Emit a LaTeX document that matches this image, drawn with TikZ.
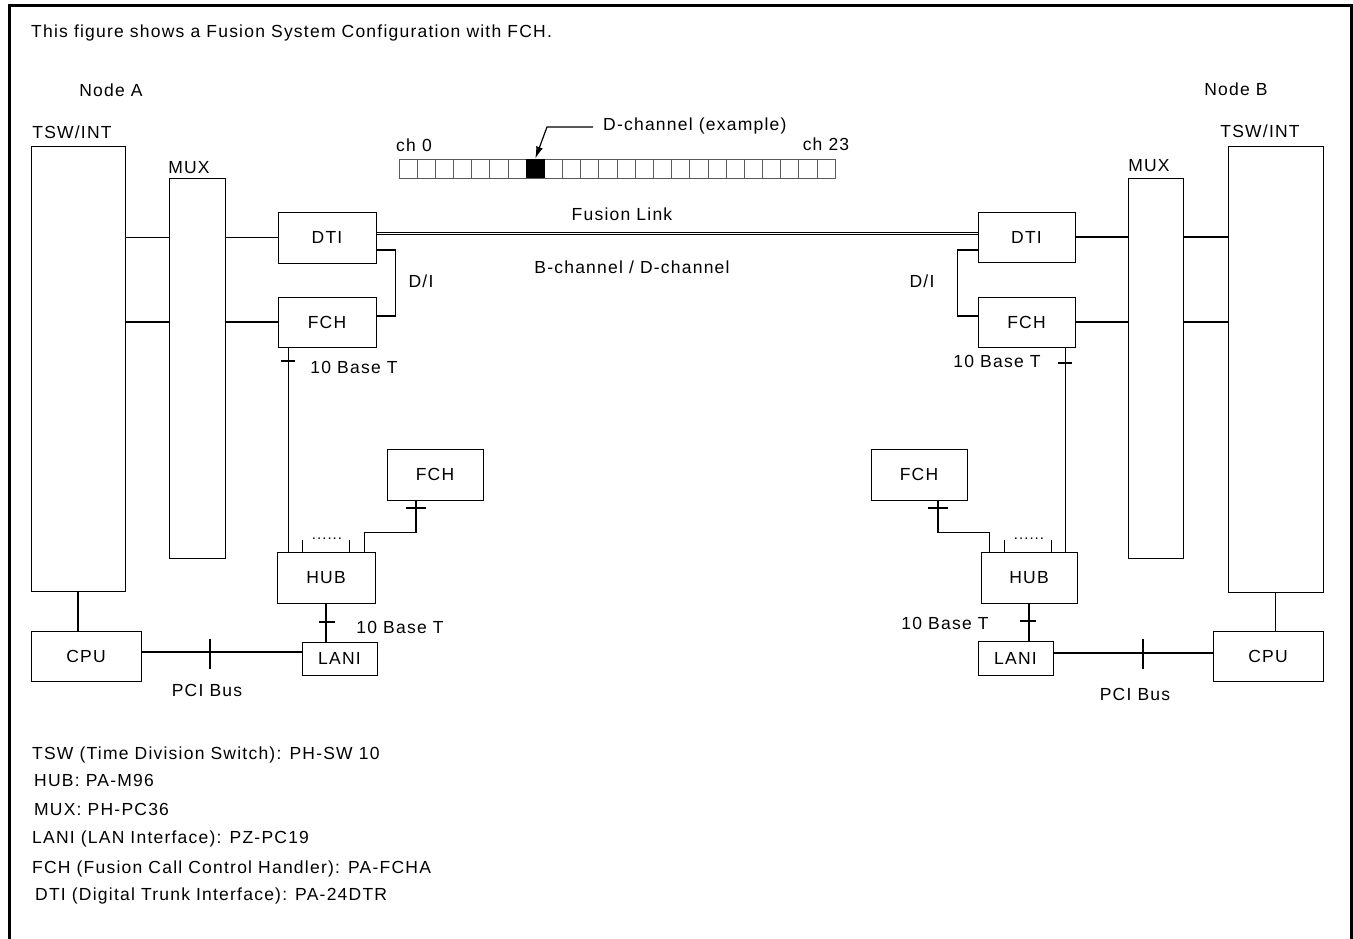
\documentclass[tikz,border=0pt]{standalone}
\usepackage{fontspec}
\setmainfont{Liberation Sans}[LetterSpace=7]
\usetikzlibrary{arrows.meta}
\tikzstyle{card}=[draw=black, line width=1pt, shape=rectangle, inner sep=0pt]
\tikzstyle{txt}=[inner sep=0pt, text height=12pt, text depth=0pt]
\tikzstyle{wire}=[-, draw=black, line width=1.8pt]
\tikzstyle{tick}=[-, draw=black, line width=1.4pt]
\tikzstyle{frame}=[-, draw=black, line width=3pt]
\tikzstyle{link}=[-, draw=black, double=white, double distance=1.6pt, line width=1pt]
\tikzstyle{cell}=[draw={rgb,255: red,90; green,90; blue,90}, line width=0.8pt,
        inner sep=0pt, minimum width=18.17pt, minimum height=19pt]

\begin{document}
\begin{tikzpicture}[x=1pt, y=-1pt, font=\fontsize{17.5}{20}\selectfont]
            \useasboundingbox (0,0) rectangle (1353,938);
            \draw [style=frame] (9,945) -- (9,5) -- (1351,5) -- (1351,945);

            \node [style=txt, anchor=west] (40) at (31,31) {This figure shows a Fusion System Configuration with FCH.};
            \node [style=txt] (41) at (111,90) {Node A};
            \node [style=txt] (42) at (1236,89) {Node B};
            \node [style=txt] (43) at (72,132) {TSW/INT};
            \node [style=txt] (44) at (1260,131) {TSW/INT};
            \node [style=txt] (45) at (189,167) {MUX};
            \node [style=txt] (46) at (1149,165) {MUX};

            % node A
            \node [style=card, minimum width=94pt, minimum height=445pt] (1) at (78,368.5) {};
            \node [style=card, minimum width=56pt, minimum height=380pt] (2) at (197,368) {};
            \node [style=card, minimum width=98pt, minimum height=51pt] (3) at (327,237.5) {DTI};
            \node [style=card, minimum width=98pt, minimum height=50pt] (4) at (327,322) {FCH};
            \node [style=card, minimum width=96pt, minimum height=51pt] (5) at (435,474.5) {FCH};
            \node [style=card, minimum width=98pt, minimum height=51pt] (6) at (326,577.5) {HUB};
            \node [style=card, minimum width=75pt, minimum height=33pt] (7) at (339.5,658.5) {LANI};
            \node [style=card, minimum width=110pt, minimum height=50pt] (8) at (86,656) {CPU};

            % node B
            \node [style=card, minimum width=95pt, minimum height=446pt] (9) at (1275.5,369) {};
            \node [style=card, minimum width=55pt, minimum height=380pt] (10) at (1155.5,368) {};
            \node [style=card, minimum width=97pt, minimum height=50pt] (11) at (1026.5,237) {DTI};
            \node [style=card, minimum width=97pt, minimum height=50pt] (12) at (1026.5,322) {FCH};
            \node [style=card, minimum width=96pt, minimum height=51pt] (13) at (919,474.5) {FCH};
            \node [style=card, minimum width=96pt, minimum height=51pt] (14) at (1029,577.5) {HUB};
            \node [style=card, minimum width=75pt, minimum height=34pt] (15) at (1015.5,658) {LANI};
            \node [style=card, minimum width=110pt, minimum height=50pt] (16) at (1268,656) {CPU};

            \node [style=txt] (20) at (421,281.5) {D/I};
            \node [style=txt] (21) at (922,281.5) {D/I};
            \node [style=txt] (22) at (354,367) {10 Base T};
            \node [style=txt] (23) at (997,361) {10 Base T};
            \node [style=txt] (24) at (400,627) {10 Base T};
            \node [style=txt] (25) at (945,623) {10 Base T};
            \node [style=txt] (26) at (207,690) {PCI Bus};
            \node [style=txt] (27) at (1135,694) {PCI Bus};
            \node [style=txt] (28) at (622,214) {Fusion Link};
            \node [style=txt] (29) at (632,267) {B-channel / D-channel};

            \draw [style=wire] (1.east |- 3.west) to (2.west |- 3.west);
            \draw [style=wire] (1.east |- 4.west) to (2.west |- 4.west);
            \draw [style=wire] (2.east |- 3.west) to (3.west);
            \draw [style=wire] (2.east |- 4.west) to (4.west);
            \draw [style=wire] ([yshift=-12.5pt]3.east) -- ++(19,0) |- ([yshift=6pt]4.east);
            \draw [style=wire] ([xshift=11pt]4.south west) to ([xshift=11pt]4.south west |- 6.north);
            \draw [style=wire] ([xshift=26pt]6.north west) -- ++(0,-12);
            \draw [style=wire] ([xshift=73pt]6.north west) -- ++(0,-12);
            \draw [style=wire] ([xshift=-11pt]6.north east) -- ++(0,-19) -| ([xshift=-19pt]5.south);
            \draw [style=wire] (6.south) to (6.south |- 7.north);
            \draw [style=wire, line width=1.3pt] ([yshift=4pt]8.east) to ([yshift=4pt]8.east -| 7.west);
            \draw [style=wire] (1.south) to (1.south |- 8.north);

            \draw [style=wire] (9.west |- 11.east) to (10.east |- 11.east);
            \draw [style=wire] (9.west |- 12.east) to (10.east |- 12.east);
            \draw [style=wire] (10.west |- 11.east) to (11.east);
            \draw [style=wire] (10.west |- 12.east) to (12.east);
            \draw [style=wire] ([yshift=-13pt]11.west) -- ++(-20,0) |- ([yshift=6pt]12.west);
            \draw [style=wire] ([xshift=-10pt]12.south east) to ([xshift=-10pt]12.south east |- 14.north);
            \draw [style=wire] ([xshift=24pt]14.north west) -- ++(0,-12);
            \draw [style=wire] ([xshift=71pt]14.north west) -- ++(0,-12);
            \draw [style=wire] ([xshift=9pt]14.north west) -- ++(0,-19) -| ([xshift=19pt]13.south);
            \draw [style=wire] (14.south) to (14.south |- 15.north);
            \draw [style=wire] ([yshift=5pt]15.east) to ([yshift=5pt]15.east -| 16.west);
            \draw [style=wire] (9.south) to (9.south |- 16.north);

            \node [font=\fontsize{15}{15}\selectfont, inner sep=0pt] (30) at (327,539) {......};
            \node [font=\fontsize{15}{15}\selectfont, inner sep=0pt] (31) at (1029,539) {......};

            % ticks
            \draw [style=tick] (281,361) -- (295,361);
            \draw [style=tick] (406,508) -- (426,508);
            \draw [style=tick] (319,622) -- (335,622);
            \draw [style=tick] (210,639) -- (210,669);
            \draw [style=tick] (1058,363) -- (1072,363);
            \draw [style=tick] (928,508) -- (948,508);
            \draw [style=tick] (1020,621) -- (1036,621);
            \draw [style=tick] (1143,639) -- (1143,669);

            \draw [style=link] (3.east |- 0,233.5) to (11.west |- 0,233.5);

            % channel bar
            \foreach \i in {0,...,23}
                \node [style=cell] (c\i) at ({408.1+18.17*\i},168.5) {};
            \fill (c7.south west) rectangle (c7.north east);
            \node [style=txt] (32) at (414,145) {ch 0};
            \node [style=txt] (33) at (826,144) {ch 23};
            \node [style=txt, anchor=west] (34) at (603,124) {D-channel (example)};
            \draw [style=wire, line width=1.2pt, -{Latex[length=12pt, width=7pt]}]
                ([xshift=-10pt,yshift=-3pt]34.west) -- ++(-46,0) -- (c7.north);

            % legend
            \node [style=txt, anchor=west] (50) at (32,753) {TSW (Time Division Switch): PH-SW 10};
            \node [style=txt, anchor=west] (51) at (34,780) {HUB: PA-M96};
            \node [style=txt, anchor=west] (52) at (34,809) {MUX: PH-PC36};
            \node [style=txt, anchor=west] (53) at (32,837) {LANI (LAN Interface): PZ-PC19};
            \node [style=txt, anchor=west] (54) at (32,867) {FCH (Fusion Call Control Handler): PA-FCHA};
            \node [style=txt, anchor=west] (55) at (35,894) {DTI (Digital Trunk Interface): PA-24DTR};
\end{tikzpicture}
\end{document}
